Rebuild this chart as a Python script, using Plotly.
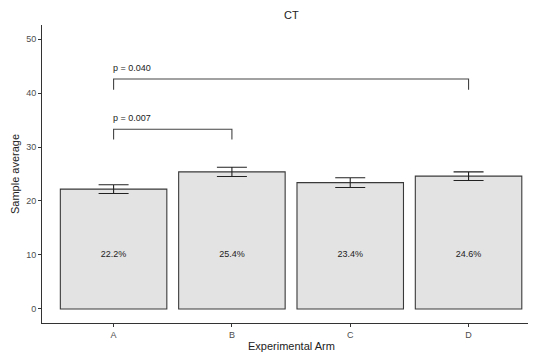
import plotly.graph_objects as go

categories = ["A", "B", "C", "D"]
means = [22.2, 25.4, 23.4, 24.6]
errors = [0.8, 0.85, 0.9, 0.8]
bar_labels = ["22.2%", "25.4%", "23.4%", "24.6%"]
label_y = [10, 10, 10, 10]

# significance brackets: (left group, right group, bracket height, tip depth, label)
bracket_left = ["A", "A"]
bracket_right = ["B", "D"]
bracket_height = [33.3, 42.6]
bracket_tip = [1.9, 2.0]
bracket_text = ["p = 0.007", "p = 0.040"]

yticks = [0, 10, 20, 30, 40, 50]

xpos = list(range(1, len(categories) + 1))
idx = {c: i + 1 for i, c in enumerate(categories)}

FONT = "Liberation Sans, Arial, sans-serif"
OFF = 8  # page body margin
W, H = 536 - OFF, 354 - OFF
ML, MR, MT, MB = 42 - OFF, 0, 25 - OFF, 31

fig = go.Figure()
fig.add_trace(go.Bar(
    x=xpos, y=means, width=0.9,
    marker=dict(color="#e3e3e3", line=dict(color="#3a3a3a", width=1.1)),
    error_y=dict(type="data", array=errors, visible=True, color="#222222",
                 thickness=1.1, width=15),
    showlegend=False, hoverinfo="skip",
))
fig.add_trace(go.Scatter(
    x=xpos, y=label_y, mode="text", text=bar_labels,
    textfont=dict(family=FONT, size=9, color="#222222"),
    showlegend=False, hoverinfo="skip",
))
for l, r, h, t, s in zip(bracket_left, bracket_right, bracket_height, bracket_tip, bracket_text):
    xl, xr = idx[l], idx[r]
    fig.add_trace(go.Scatter(
        x=[xl, xl, xr, xr], y=[h - t, h, h, h - t], mode="lines",
        line=dict(color="#444444", width=1.1),
        showlegend=False, hoverinfo="skip",
    ))
    fig.add_annotation(x=xl, y=h, text=s, showarrow=False, xanchor="left",
                       yanchor="bottom", yshift=4, xshift=-3,
                       font=dict(family=FONT, size=9, color="#222222"))

plot_w = W - ML - MR
plot_h = H - MT - MB
cx = (291 - 42) / plot_w
fig.add_annotation(xref="paper", yref="paper", x=cx, y=1 + (25 - 15) / plot_h,
                   text="CT", showarrow=False, xanchor="center", yanchor="middle",
                   font=dict(family=FONT, size=11, color="#222222"))
fig.add_annotation(xref="paper", yref="paper", x=cx, y=-(346 - 323) / plot_h,
                   text="Experimental Arm", showarrow=False, xanchor="center", yanchor="middle",
                   font=dict(family=FONT, size=11, color="#222222"))
fig.add_annotation(xref="paper", yref="paper", x=-(42 - 15) / plot_w, y=0.5,
                   text="Sample average", showarrow=False, xanchor="center", yanchor="middle",
                   textangle=-90,
                   font=dict(family=FONT, size=11, color="#222222"))

fig.update_layout(
    width=W, height=H,
    margin=dict(l=ML, r=MR, t=MT, b=MB, autoexpand=False),
    paper_bgcolor="white", plot_bgcolor="white",
    font=dict(family=FONT),
)
fig.update_xaxes(
    range=[0.395, 4.57], tickmode="array", tickvals=xpos, ticktext=categories,
    showline=True, linecolor="#333333", linewidth=1.1, ticks="outside", ticklen=3,
    tickcolor="#333333", showgrid=False, zeroline=False, automargin=False,
    tickfont=dict(family=FONT, size=9, color="#4d4d4d"),
)
fig.update_yaxes(
    range=[-2.6, 52.6], tickmode="array", tickvals=yticks,
    showline=True, linecolor="#333333", linewidth=1.1, ticks="outside", ticklen=3,
    tickcolor="#333333", showgrid=False, zeroline=False, automargin=False,
    tickfont=dict(family=FONT, size=9, color="#4d4d4d"),
)

fig.write_html("out.html")
